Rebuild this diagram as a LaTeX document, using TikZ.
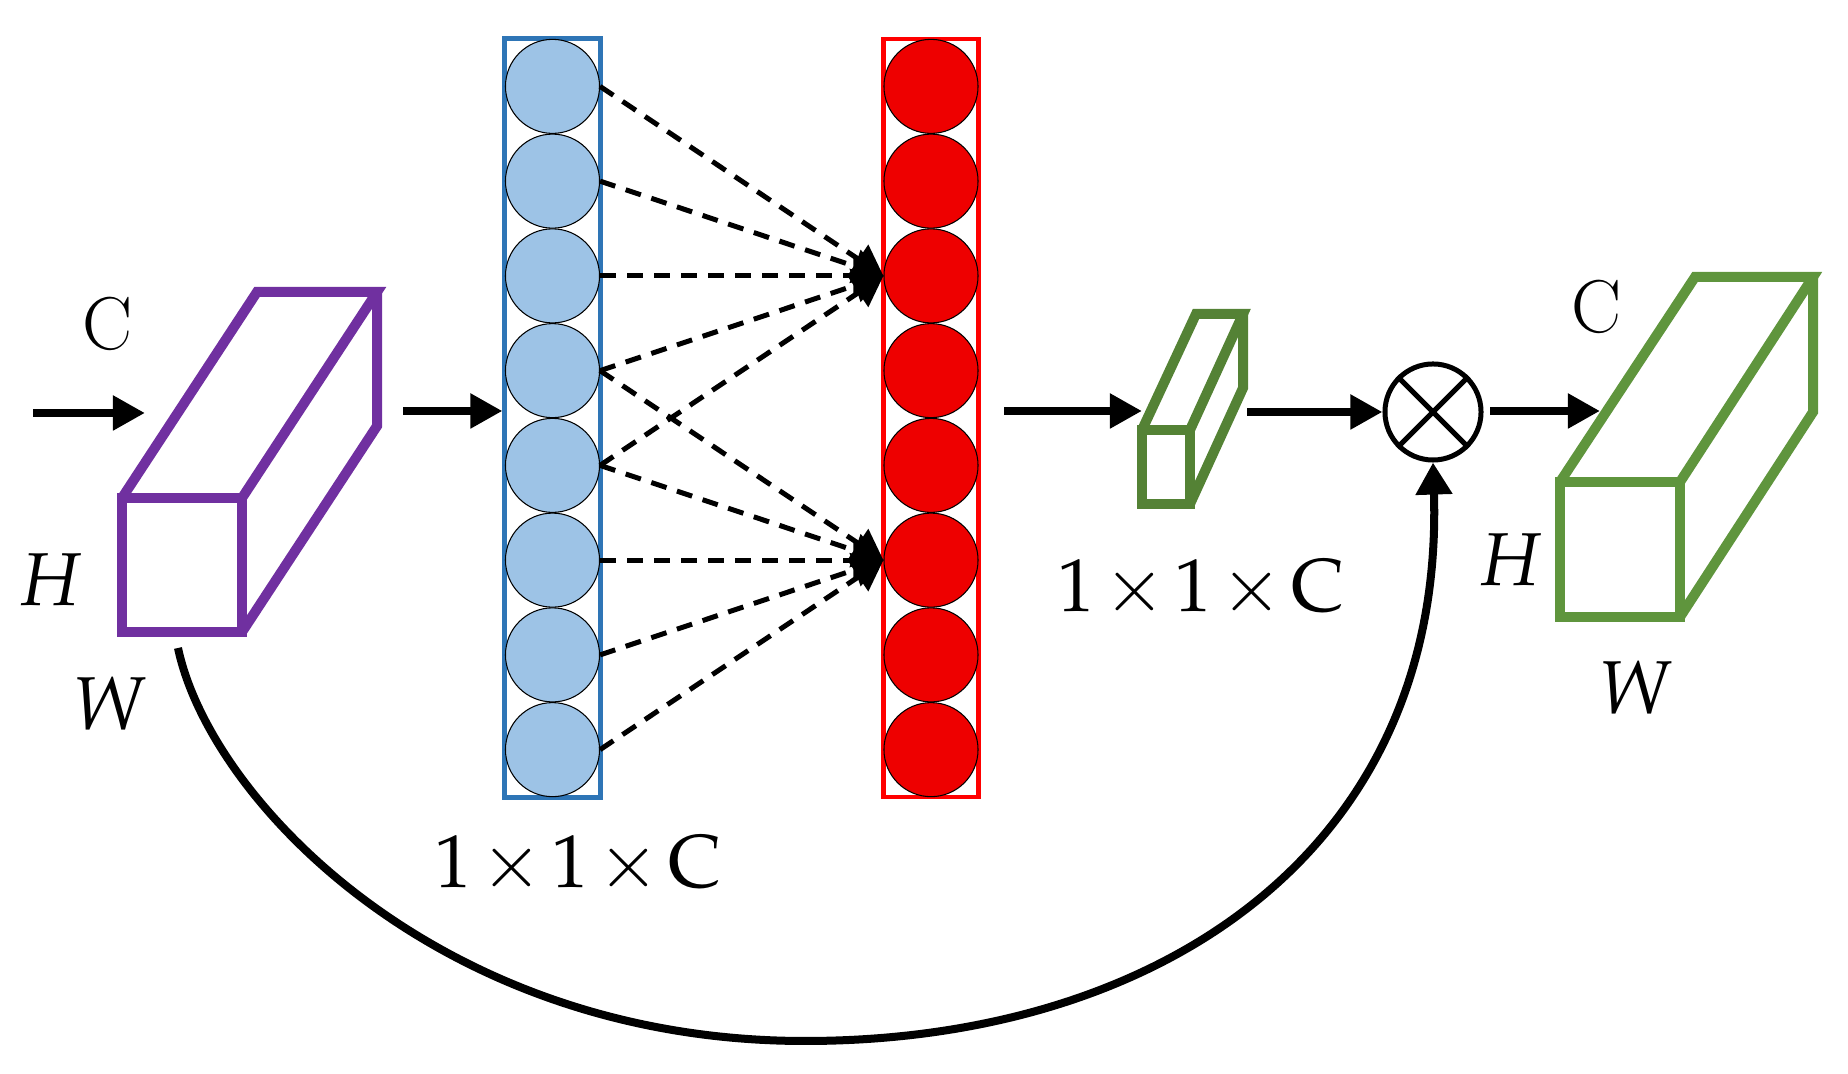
\documentclass[tikz,border=0pt]{standalone}
\usepackage{mathpazo}
\usepackage{tikz}
\usetikzlibrary{arrows.meta}
\usetikzlibrary{positioning}
\definecolor{pool}{HTML}{9DC3E6}
\definecolor{poolframe}{HTML}{2E75B6}
\definecolor{excite}{HTML}{EE0000}
\definecolor{exciteframe}{HTML}{FF0000}
\definecolor{cube}{HTML}{7030A0}
\definecolor{gate}{HTML}{548235}
\definecolor{gateout}{HTML}{5F953D}
\tikzset{flow/.style = {line width = 0.08cm, -{Triangle[length = 0.32cm, width = 0.33cm]}}}
\tikzset{link/.style = {line width = 0.05cm, dash pattern = on 0.16cm off 0.11cm,
                        -{Triangle[length = 0.3cm, width = 0.34cm]}}}
\tikzset{unit/.style = {circle, draw = black, line width = 0.3pt, inner sep = 0, minimum size = 0.94cm}}
\tikzset{column/.style = {draw, inner sep = 0, minimum width = 0.95cm, minimum height = 7.58cm}}
\tikzset{cubeline/.style = {line width = 0.1cm}}

\begin{document}
\begin{tikzpicture}[x = 0.01cm, y = -0.01cm, font = \fontsize{21.3}{25}\selectfont]
      \useasboundingbox (0, 0) rectangle (1848, 1074);
      % input feature map
      \draw [cubeline, draw = cube] (122, 498) rectangle (242, 632);
      \draw [cubeline, draw = cube] (122, 498) -- (257, 292) -- (377, 292) -- (242, 498);
      \draw [cubeline, draw = cube] (377, 292) -- (377, 426) -- (242, 632);
      \node (cin) at (108, 324) {C};
      \node (hin) at (50, 580) {$H$};
      \node (win) at (110, 703) {$W$};
      \coordinate (x0) at (33, 413);
      \coordinate (x1) at (145, 413);
      \draw [flow] (x0) -- (x1);

      % squeeze column
      \node [column, draw = poolframe, line width = 0.05cm] (sq) at (552.5, 418) {};
      \foreach \i in {1, ..., 8}
        \node [unit, fill = pool] (b\i) at (552.5, 86.4 + 94.75*\i - 94.75) {};
      \node [anchor = base] (sqlabel) at (578, 888) {$1\mkern2mu{\times}\mkern2mu1\mkern2mu{\times}\mkern2mu\mathrm{C}$};
      \coordinate (x2) at (403, 411);
      \draw [flow] (x2) -- (x2 -| sq.west);

      % excitation column
      \node [column, draw = exciteframe, line width = 0.045cm] (ex) at (931, 418) {};
      \foreach \i in {1, ..., 8}
        \node [unit, fill = excite] (r\i) at (931, 86.4 + 94.75*\i - 94.75) {};
      \foreach \i in {1, ..., 5}
        \draw [link] (b\i.east) -- (r3.west);
      \foreach \i in {4, ..., 8}
        \draw [link] (b\i.east) -- (r6.west);

      % channel weights
      \coordinate (x3) at (1004, 411);
      \coordinate (x4) at (1142, 411);
      \draw [flow] (x3) -- (x4);
      \draw [cubeline, draw = gate] (1142, 430) rectangle (1190, 504);
      \draw [cubeline, draw = gate] (1142, 430) -- (1196, 314) -- (1243, 314) -- (1190, 430);
      \draw [cubeline, draw = gate] (1243, 314) -- (1243, 388) -- (1190, 504);
      \node [anchor = base] (exlabel) at (1201, 612) {$1\mkern2mu{\times}\mkern2mu1\mkern2mu{\times}\mkern2mu\mathrm{C}$};

      % scaling
      \node [circle, draw, line width = 0.05cm, inner sep = 0, minimum size = 0.96cm] (ox) at (1433, 412) {};
      \draw [line width = 0.05cm] (ox.north west) -- (ox.south east) (ox.north east) -- (ox.south west);
      \coordinate (x5) at (1247, 412);
      \draw [flow] (x5) -- (ox.west);
      \coordinate (skip) at (178, 648);
      \draw [line width = 0.08cm, -{Triangle[length = 0.32cm, width = 0.35cm]}] (skip)
        .. controls (210, 800) and (440, 1041) .. (805, 1041)
        .. controls (1160, 1041) and (1445, 850) .. (ox.south);

      % output feature map
      \coordinate (x6) at (1490, 411);
      \coordinate (x7) at (1600, 411);
      \draw [flow] (x6) -- (x7);
      \draw [cubeline, draw = gateout] (1560, 482) rectangle (1680, 617);
      \draw [cubeline, draw = gateout] (1560, 482) -- (1695, 277) -- (1813, 277) -- (1680, 482);
      \draw [cubeline, draw = gateout] (1813, 277) -- (1813, 412) -- (1680, 617);
      \node (cout) at (1596, 307) {C};
      \node (hout) at (1510, 560) {$H$};
      \node (wout) at (1636, 687) {$W$};
    \end{tikzpicture}
\end{document}
